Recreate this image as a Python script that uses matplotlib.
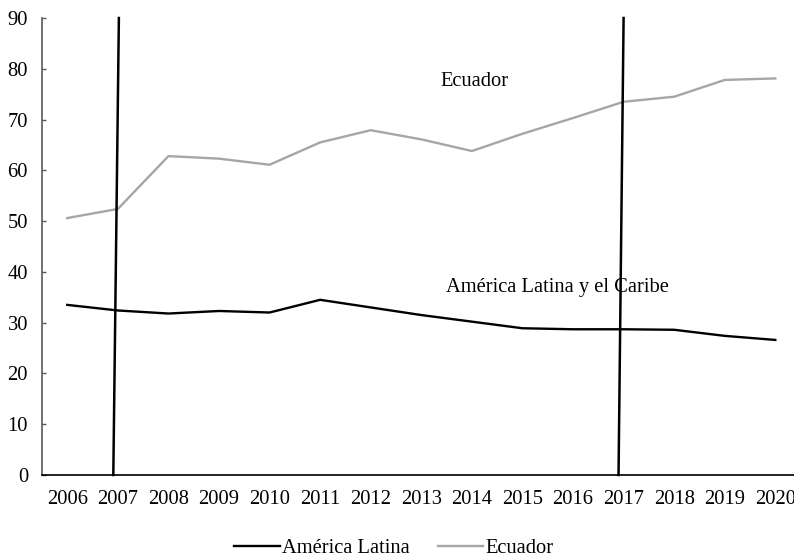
import matplotlib
matplotlib.use("Agg")
import matplotlib.pyplot as plt
from matplotlib.lines import Line2D

plt.rcParams['font.family'] = ['Liberation Serif', 'DejaVu Serif']

years = list(range(2006, 2021))
america_latina = [33.5, 32.4, 31.8, 32.3, 32.0, 34.5, 33.0, 31.5, 30.2, 28.9,
                  28.7, 28.7, 28.6, 27.4, 26.6]
ecuador = [50.6, 52.4, 62.8, 62.3, 61.1, 65.5, 67.9, 66.1, 63.8, 67.2,
           70.3, 73.5, 74.5, 77.8, 78.1]
yticks = list(range(0, 91, 10))
series_labels = ["América Latina", "Ecuador"]
annot_ecuador = "Ecuador"
annot_alc = "América Latina y el Caribe"
# slanted marker lines (bottom x, top x) around 2007 and 2017
marker_lines = [(2006.91, 2007.02), (2016.9, 2017.0)]

W, H = 794, 557
fig = plt.figure(figsize=(W / 100, H / 100), dpi=100)
ax = fig.add_axes([42 / W, (557 - 475) / H, 758.6 / W, 457 / H])

fs = 14.8
ax.plot(years, america_latina, color='black', lw=1.7, solid_joinstyle='round',
        label=series_labels[0], clip_on=False, zorder=3)
ax.plot(years, ecuador, color='#A6A6A6', lw=1.7, solid_joinstyle='round',
        label=series_labels[1], clip_on=False, zorder=3)

for xb, xt in marker_lines:
    ax.plot([xb, xt], [0, 90], color='black', lw=1.8, clip_on=False, zorder=4)

ax.text(2014.05, 77.4, annot_ecuador, fontsize=fs, ha='center', va='center')
ax.text(2015.7, 37.0, annot_alc, fontsize=fs, ha='center', va='center')

ax.set_xlim(2005.5, 2020.5)
ax.set_ylim(0, 90)
ax.set_yticks(yticks)
ax.set_xticks(years)
ax.set_xticklabels([str(y) for y in years])
ax.tick_params(axis='y', labelsize=fs, length=3, width=1, color='#595959',
               direction='in', pad=10)
ax.tick_params(axis='x', labelsize=fs, length=0, pad=11)
for s in ['top', 'right']:
    ax.spines[s].set_visible(False)
ax.spines['left'].set_color('#595959')
ax.spines['left'].set_linewidth(1.2)
ax.spines['bottom'].set_color('black')
ax.spines['bottom'].set_linewidth(1.2)

handles = [Line2D([0], [0], color='black', lw=1.7),
           Line2D([0], [0], color='#A6A6A6', lw=1.7)]
fig.legend(handles, series_labels, loc='center', bbox_to_anchor=(394 / W, 1 - 548 / H),
           ncol=2, frameon=False, fontsize=fs, handlelength=2.2, handletextpad=0.1,
           columnspacing=1.4, borderaxespad=0)

fig.savefig("out.png", dpi=100)
